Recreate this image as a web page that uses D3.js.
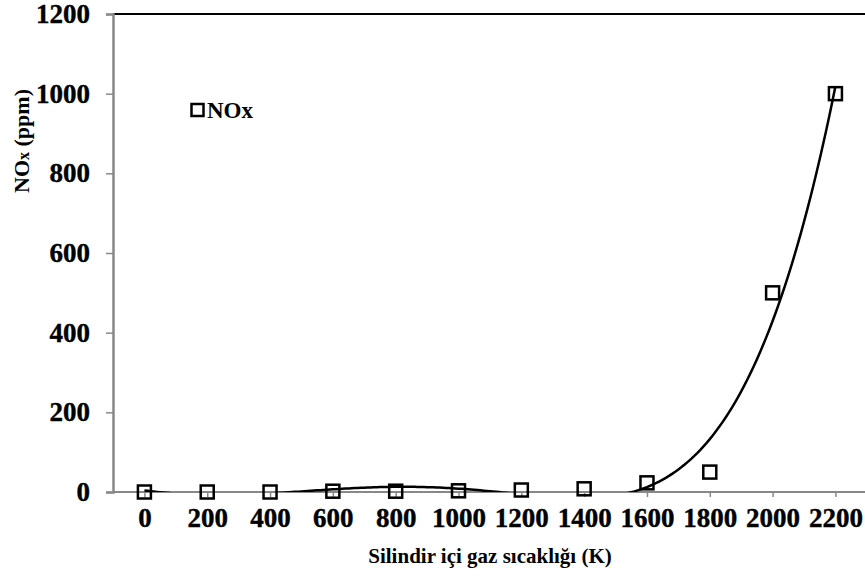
<!DOCTYPE html>
<html><head><meta charset="utf-8">
<script src="https://cdn.jsdelivr.net/npm/d3@7"></script>
<style>body{margin:0;background:#fff;} svg{display:block;}</style>
</head><body>
<svg id="c" width="865" height="577"></svg>
<script>
const temps = [0,200,400,600,800,1000,1200,1400,1600,1800,2000,2200];
const noxValues = [0,0,0,2,2,3,5,8,23,50,500,1000];
const yTicks = [0,200,400,600,800,1000,1200];
const seriesName = "NOx";
const xTitle = "Silindir içi gaz sıcaklığı (K)";

const svg = d3.select("#c");
const L = 113, T = 14, B = 492;
const x = d3.scaleLinear().domain([-100, 2300]).range([L, L + 62.82*12]);
const y = d3.scaleLinear().domain([0, 1200]).range([B, T]);
const font = "'Liberation Serif','Times New Roman',serif";

// polynomial trendline (least squares) computed from the data
function polyfit(xs, ys, n){
  const s = 2200;
  const m = n+1;
  const A = Array.from({length:m},()=>new Array(m+1).fill(0));
  xs.forEach((xv,i)=>{
    const t = xv/s;
    for(let r=0;r<m;r++){
      for(let c=0;c<m;c++) A[r][c]+=Math.pow(t,r+c);
      A[r][m]+=ys[i]*Math.pow(t,r);
    }
  });
  for(let i=0;i<m;i++){
    let p=i; for(let k=i+1;k<m;k++) if(Math.abs(A[k][i])>Math.abs(A[p][i])) p=k;
    [A[i],A[p]]=[A[p],A[i]];
    for(let k=0;k<m;k++){ if(k===i) continue; const f=A[k][i]/A[i][i]; for(let c=i;c<=m;c++) A[k][c]-=f*A[i][c]; }
  }
  const coef = A.map((r,i)=>r[m]/r[i]);
  return xv=>{const t=xv/s; return coef.reduce((a,c,i)=>a+c*Math.pow(t,i),0);};
}
const f = polyfit(temps, noxValues, 5);
const curve = d3.range(0, 2200.01, 10).map(v=>[v, f(v)]);

svg.append("clipPath").attr("id","clip").append("rect")
  .attr("x", L).attr("y", T).attr("width", 865-L).attr("height", B-T);

// axes
svg.append("line").attr("x1",L).attr("x2",865).attr("y1",T).attr("y2",T)
  .attr("stroke","#000").attr("stroke-width",2);
const yAxis = svg.append("g").attr("transform",`translate(${L},0)`)
  .call(d3.axisLeft(y).tickValues(yTicks).tickFormat(d3.format("d")).tickSize(7).tickPadding(16));
yAxis.select(".domain").attr("stroke","#888").attr("stroke-width",2.5);
yAxis.selectAll(".tick line").attr("stroke","#888").attr("stroke-width",1.5);
yAxis.selectAll("text").attr("font-family",font).attr("font-weight","bold")
  .attr("font-size",27).attr("fill","#000").attr("stroke","#000").attr("stroke-width",0.4);

const xAxis = svg.append("g").attr("transform",`translate(0,${B})`)
  .call(d3.axisBottom(x).tickValues(temps).tickFormat(d3.format("d")).tickSize(5).tickPadding(11).tickSizeOuter(0));
xAxis.select(".domain").attr("stroke","#888").attr("stroke-width",2).attr("d",`M${L},0H865`);
xAxis.selectAll(".tick line").attr("stroke","#888").attr("stroke-width",1.5);
xAxis.selectAll("text").attr("font-family",font).attr("font-weight","bold")
  .attr("font-size",27).attr("fill","#000").attr("stroke","#000").attr("stroke-width",0.4);

// trendline
svg.append("path").datum(curve).attr("clip-path","url(#clip)")
  .attr("d", d3.line().x(d=>x(d[0])).y(d=>y(d[1])))
  .attr("fill","none").attr("stroke","#000").attr("stroke-width",2.5);

// markers
const sz = 13;
svg.append("g").selectAll("rect").data(temps.map((t,i)=>[t,noxValues[i]])).join("rect")
  .attr("x",d=>x(d[0])-sz/2).attr("y",d=>y(d[1])-sz/2)
  .attr("width",sz).attr("height",sz)
  .attr("fill","none").attr("stroke","#000").attr("stroke-width",2.5);

// legend
svg.append("rect").attr("x",191.5).attr("y",104).attr("width",12).attr("height",12)
  .attr("fill","none").attr("stroke","#000").attr("stroke-width",2.5);
svg.append("text").attr("x",207).attr("y",118).attr("font-family",font)
  .attr("font-weight","bold").attr("font-size",23).text(seriesName);

// titles
svg.append("text").attr("x",490).attr("y",563).attr("text-anchor","middle")
  .attr("font-family",font).attr("font-weight","bold").attr("font-size",21).text(xTitle);
const yt = svg.append("text").attr("transform","translate(29,141) rotate(-90)")
  .attr("text-anchor","middle").attr("font-family",font).attr("font-weight","bold").attr("font-size",22);
yt.append("tspan").text("NO");
yt.append("tspan").attr("font-size",16).text("x");
yt.append("tspan").text("  (ppm)");
</script>
</body></html>
